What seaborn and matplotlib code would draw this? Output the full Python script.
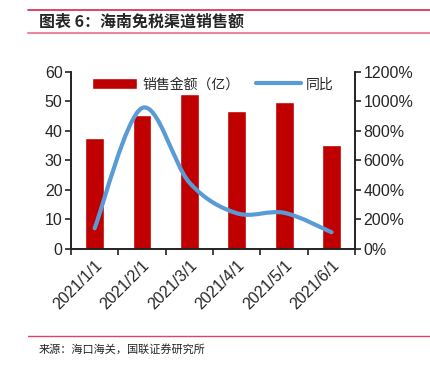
import numpy as np
import pandas as pd
import matplotlib
matplotlib.use("Agg")
import matplotlib.pyplot as plt
from matplotlib.path import Path
from matplotlib.patches import PathPatch
from matplotlib.lines import Line2D
from matplotlib.patches import Patch
import seaborn as sns

# data
dates = ["2021/1/1", "2021/2/1", "2021/3/1", "2021/4/1", "2021/5/1", "2021/6/1"]
sales = [37.7, 45.4, 52.4, 46.7, 49.7, 35.3]          # 销售金额（亿）
yoy = [140, 955, 450, 242, 245, 113]                   # 同比 %

bar_color = "#C00000"
line_color = "#5B9BD5"

sns.set_theme(style="white")
plt.rcParams["font.family"] = ["Noto Sans CJK SC", "DejaVu Sans"]
num_font = ["Liberation Sans", "DejaVu Sans"]

df = pd.DataFrame({"date": dates, "sales": sales, "yoy": yoy})

fig = plt.figure(figsize=(4.3, 3.65), dpi=100)
ax = fig.add_axes([0.165, 0.318, 0.661, 0.485])

sns.barplot(data=df, x="date", y="sales", color=bar_color, width=0.4,
            saturation=1, ax=ax)
ax.set_xlim(-0.5, 5.5)
ax.set_ylim(0, 60)
ax.set_yticks(range(0, 61, 10))
ax.set_xlabel("")
ax.set_ylabel("")

ax2 = ax.twinx()
ax2.set_ylim(0, 1200)
ax2.set_yticks(range(0, 1201, 200))
ax2.set_yticklabels([f"{v}%" for v in range(0, 1201, 200)])

# smoothed line (Catmull-Rom style bezier through the data points)
xs = np.arange(len(yoy), dtype=float)
ys = np.array(yoy, dtype=float)
verts = [(xs[0], ys[0])]
codes = [Path.MOVETO]
t = 1 / 6
for i in range(len(xs) - 1):
    p0 = (xs[max(i - 1, 0)], ys[max(i - 1, 0)])
    p1 = (xs[i], ys[i])
    p2 = (xs[i + 1], ys[i + 1])
    p3 = (xs[min(i + 2, len(xs) - 1)], ys[min(i + 2, len(xs) - 1)])
    c1 = (p1[0] + (p2[0] - p0[0]) * t, p1[1] + (p2[1] - p0[1]) * t)
    c2 = (p2[0] - (p3[0] - p1[0]) * t, p2[1] - (p3[1] - p1[1]) * t)
    verts += [c1, c2, p2]
    codes += [Path.CURVE4] * 3
ax2.add_patch(PathPatch(Path(verts, codes), facecolor="none",
                        edgecolor=line_color, lw=3, capstyle="round"))

# axes styling
for a in (ax, ax2):
    a.spines["top"].set_visible(False)
    for s in ("left", "right", "bottom"):
        a.spines[s].set_color("#222222")
        a.spines[s].set_linewidth(1.2)
ax.tick_params(axis="y", direction="out", length=4, width=1.2, color="#222222",
               labelsize=11.5, pad=2, left=True)
ax2.tick_params(axis="y", direction="out", length=4, width=1.2, color="#222222",
                labelsize=11.5, pad=2, right=True)
ax.set_xticks(range(len(dates)))
ax.set_xticklabels(dates, rotation=45, ha="right", rotation_mode="anchor",
                   fontsize=11.5)
ax.tick_params(axis="x", which="major", length=0, pad=6)
ax.set_xticks(np.arange(-0.5, 6, 1), minor=True)
ax.tick_params(axis="x", which="minor", direction="out", length=4, width=1.2,
               color="#222222", bottom=True)
for lab in ax.get_xticklabels() + ax.get_yticklabels() + ax2.get_yticklabels():
    lab.set_family(num_font)
ax.grid(False)
ax2.grid(False)

handles = [Patch(facecolor=bar_color, label="销售金额（亿）"),
           Line2D([0], [0], color=line_color, lw=3, label="同比")]
ax.legend(handles=handles, loc="upper center", bbox_to_anchor=(0.5, 1.04),
          ncol=2, frameon=False, fontsize=10, handlelength=3.2,
          handleheight=0.9, columnspacing=1.2, handletextpad=0.4)

# header and footer
fig.add_artist(Line2D([0.065, 1.0], [0.972, 0.972], color="#D8244C", lw=1.2))
fig.add_artist(Line2D([0.065, 1.0], [0.91, 0.91], color="#E8889C", lw=1.5))
fig.text(0.09, 0.94, "图表 6：海南免税渠道销售额", fontsize=11.5,
         fontweight="bold", style="italic", va="center", ha="left")
fig.add_artist(Line2D([0.065, 1.0], [0.079, 0.079], color="#E0406A", lw=1.0))
fig.text(0.09, 0.043, "来源：海口海关，国联证券研究所", fontsize=8,
         va="center", ha="left")

fig.savefig("out.png", dpi=100)
